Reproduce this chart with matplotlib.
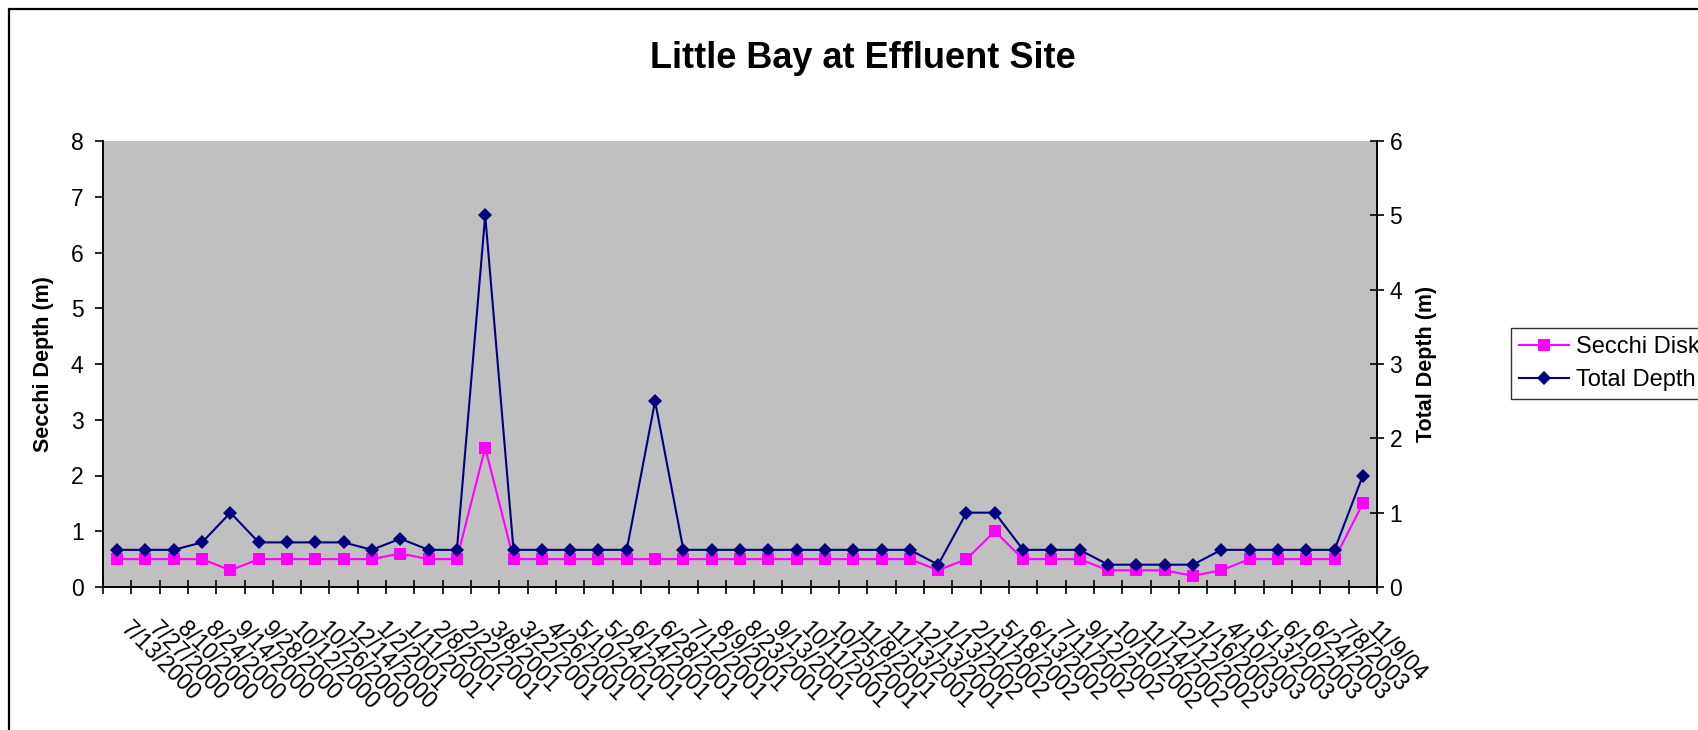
import matplotlib
matplotlib.use("Agg")
import matplotlib.pyplot as plt
import matplotlib.transforms as mtransforms
from matplotlib.patches import Rectangle
from matplotlib.ticker import FixedLocator, NullFormatter

plt.rcParams["font.family"] = ["Liberation Sans", "DejaVu Sans"]

# ---------------------------------------------------------------------------
dates = [
    "7/13/2000", "7/27/2000", "8/10/2000", "8/24/2000", "9/14/2000",
    "9/28/2000", "10/12/2000", "10/26/2000", "12/14/2000", "1/2/2001",
    "1/11/2001", "2/8/2001", "2/22/2001", "3/8/2001", "3/22/2001",
    "4/26/2001", "5/10/2001", "5/24/2001", "6/14/2001", "6/28/2001",
    "7/12/2001", "8/9/2001", "8/23/2001", "9/13/2001", "10/11/2001",
    "10/25/2001", "11/8/2001", "11/13/2001", "12/13/2001", "1/13/2002",
    "2/11/2002", "5/18/2002", "6/13/2002", "7/11/2002", "9/12/2002",
    "10/10/2002", "11/14/2002", "12/12/2002", "1/16/2003", "4/10/2003",
    "5/13/2003", "6/10/2003", "6/24/2003", "7/8/2003", "11/9/04",
]

secchi = [
    0.5, 0.5, 0.5, 0.5, 0.3, 0.5, 0.5, 0.5, 0.5, 0.5,
    0.6, 0.5, 0.5, 2.5, 0.5, 0.5, 0.5, 0.5, 0.5, 0.5,
    0.5, 0.5, 0.5, 0.5, 0.5, 0.5, 0.5, 0.5, 0.5, 0.3,
    0.5, 1.0, 0.5, 0.5, 0.5, 0.3, 0.3, 0.3, 0.2, 0.3,
    0.5, 0.5, 0.5, 0.5, 1.5,
]

total_depth = [
    0.5, 0.5, 0.5, 0.6, 1.0, 0.6, 0.6, 0.6, 0.6, 0.5,
    0.65, 0.5, 0.5, 5.0, 0.5, 0.5, 0.5, 0.5, 0.5, 2.5,
    0.5, 0.5, 0.5, 0.5, 0.5, 0.5, 0.5, 0.5, 0.5, 0.3,
    1.0, 1.0, 0.5, 0.5, 0.5, 0.3, 0.3, 0.3, 0.3, 0.5,
    0.5, 0.5, 0.5, 0.5, 1.5,
]

SECCHI_COLOR = "#FF00FF"
TOTAL_COLOR  = "#000080"
PLOT_BG      = "#C0C0C0"

# ---------------------------------------------------------------------------
W, H = 1698, 730
fig = plt.figure(figsize=(W / 100, H / 100), dpi=100)

# outer chart border (left and top visible, rest runs off the picture)
fig.patches.append(Rectangle((9 / W, -0.2), 1.2, 1.2 - 9 / H,
                             transform=fig.transFigure, fill=False,
                             edgecolor="black", linewidth=1.6))

left, right = 103 / W, 1377 / W
bottom, top = 1 - 587 / H, 1 - 141 / H
ax = fig.add_axes([left, bottom, right - left, top - bottom])
ax.set_facecolor(PLOT_BG)

x = list(range(len(dates)))
l1, = ax.plot(x, secchi, color=SECCHI_COLOR, linewidth=1.5, marker="s",
              markersize=8.5, markeredgewidth=0, label="Secchi Disk", zorder=3)

ax2 = ax.twinx()
l2, = ax2.plot(x, total_depth, color=TOTAL_COLOR, linewidth=1.5, marker="D",
               markersize=7.5, markeredgewidth=0, label="Total Depth", zorder=3)

ax.set_xlim(-0.5, len(dates) - 0.5)
ax.set_ylim(0, 8)
ax2.set_ylim(0, 6)
ax.set_yticks(range(0, 9))
ax2.set_yticks(range(0, 7))

for a in (ax, ax2):
    a.spines["top"].set_visible(False)
    for s in ("left", "right", "bottom"):
        a.spines[s].set_linewidth(1.2)

# category labels at centres, tick marks at the boundaries
ax.set_xticks(x)
ax.set_xticklabels(dates, rotation=-45, ha="left", va="top",
                   rotation_mode="anchor", fontsize=16.5)
ax.tick_params(axis="x", which="major", length=0, pad=22)
ax.xaxis.set_minor_locator(FixedLocator([i - 0.5 for i in range(len(dates) + 1)]))
ax.xaxis.set_minor_formatter(NullFormatter())
ax.tick_params(axis="x", which="minor", direction="inout", length=10, width=1.2)
shift = mtransforms.ScaledTranslation(0.15, 0, fig.dpi_scale_trans)
for lab in ax.get_xticklabels():
    lab.set_transform(lab.get_transform() + shift)

ax.tick_params(axis="y", direction="out", length=6, width=1.2, labelsize=16.5, pad=8)
ax2.tick_params(axis="y", direction="inout", length=10, width=1.2, labelsize=16.5, pad=4)

ax.set_ylabel("Secchi Depth (m)", fontsize=15.5, fontweight="bold", labelpad=12)
ax2.set_ylabel("Total Depth (m)", fontsize=15.5, fontweight="bold", labelpad=10)

fig.text(863 / W, 1 - 58 / H, "Little Bay at Effluent Site", ha="center",
         va="center", fontsize=26, fontweight="bold")

leg = fig.legend([l1, l2], ["Secchi Disk", "Total Depth"],
                 loc="upper left", bbox_to_anchor=(1511 / W, 1 - 328 / H),
                 fontsize=17, frameon=True, fancybox=False, borderpad=0.35,
                 handlelength=2.1, handletextpad=0.3, labelspacing=0.45,
                 borderaxespad=0)
leg.get_frame().set_edgecolor("black")
leg.get_frame().set_linewidth(1.0)

fig.savefig("out.png", dpi=100)
